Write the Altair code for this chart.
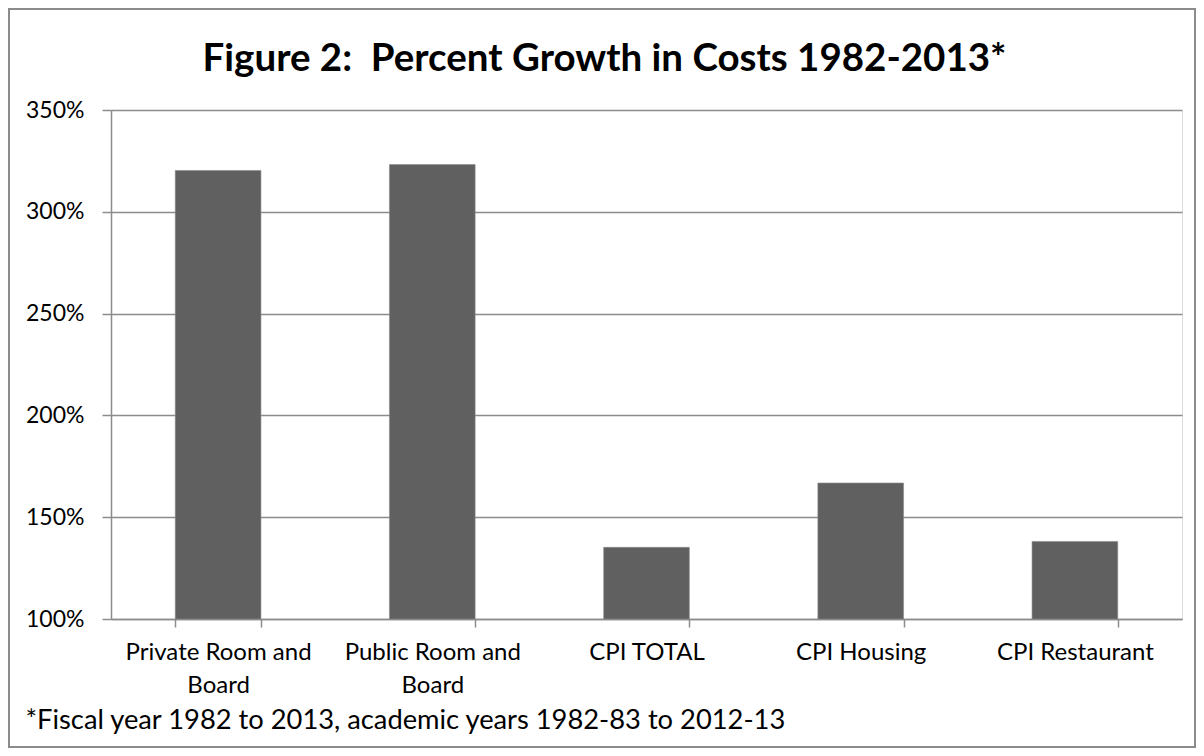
import altair as alt
import pandas as pd

categories = ["Private Room and Board", "Public Room and Board", "CPI TOTAL", "CPI Housing", "CPI Restaurant"]
growth = [3.203, 3.232, 1.352, 1.668, 1.381]
y_ticks = [1.0, 1.5, 2.0, 2.5, 3.0, 3.5]
title_text = "Figure 2:\u00a0 Percent Growth in Costs 1982-2013*"
footnote = "*Fiscal year 1982 to 2013, academic years 1982-83 to 2012-13"

df = pd.DataFrame({"category": categories, "growth": growth})

W, H = 1071, 509
PAD = {"left": 103, "top": 102, "right": 14, "bottom": 129}
FONT = "Lato"
GRID = "#8c8c8c"

bars = alt.Chart(df).mark_bar(color="#606060", stroke="#8a8a8a", strokeWidth=0.6).encode(
    x=alt.X("category:N", sort=categories,
            scale=alt.Scale(paddingInner=0.6, paddingOuter=0.3),
            axis=alt.Axis(title=footnote, labelAngle=0, labelFont=FONT, labelFontSize=24,
                          labelColor="#000", labelPadding=13, labelLimit=0, tickSize=8,
                          tickBand="extent",
                          tickColor=GRID, tickWidth=1.5, domainColor=GRID, domainWidth=1.5,
                          labelLineHeight=33, labelBaseline="top",
                          labelExpr="split(replace(datum.label, ' and ', ' and|'), '|')",
                          titleFont=FONT, titleFontSize=27.3, titleFontWeight="normal",
                          titleColor="#000", titleAnchor="start", titleAlign="left",
                          titleBaseline="alphabetic", titleX=-86, titleY=109)),
    y=alt.Y("growth:Q", scale=alt.Scale(domain=[1.0, 3.5], nice=False, zero=False),
            axis=alt.Axis(title=None, values=y_ticks, format=".0%", labelFont=FONT,
                          labelFontSize=23, labelColor="#000", labelPadding=18, tickSize=9,
                          tickColor=GRID, tickWidth=1.5, domainColor=GRID, domainWidth=1.5,
                          gridColor=GRID, gridWidth=1.5, gridOpacity=1)),
    y2=alt.datum(1.0),
)

frame = alt.Chart(df).mark_rect(fill=None, stroke="#8a8a8a", strokeWidth=1.5).encode(
    x=alt.value(-PAD["left"] + 0.75), x2=alt.value(W + PAD["right"] - 0.75),
    y=alt.value(-PAD["top"] + 0.75), y2=alt.value(H + PAD["bottom"] - 0.75),
)

chart = alt.layer(bars, frame).properties(
    width=W, height=H,
    padding=PAD,
    autosize=alt.AutoSizeParams(type="none"),
    title=alt.TitleParams(title_text, font=FONT, fontSize=38.5, fontWeight="bold",
                          color="#000", anchor="middle", frame="group", baseline="alphabetic",
                          offset=-101, dx=-42),
).configure_view(stroke=None).configure(background="white")

chart.save("out.html", embed_options={"renderer": "svg", "actions": False})
